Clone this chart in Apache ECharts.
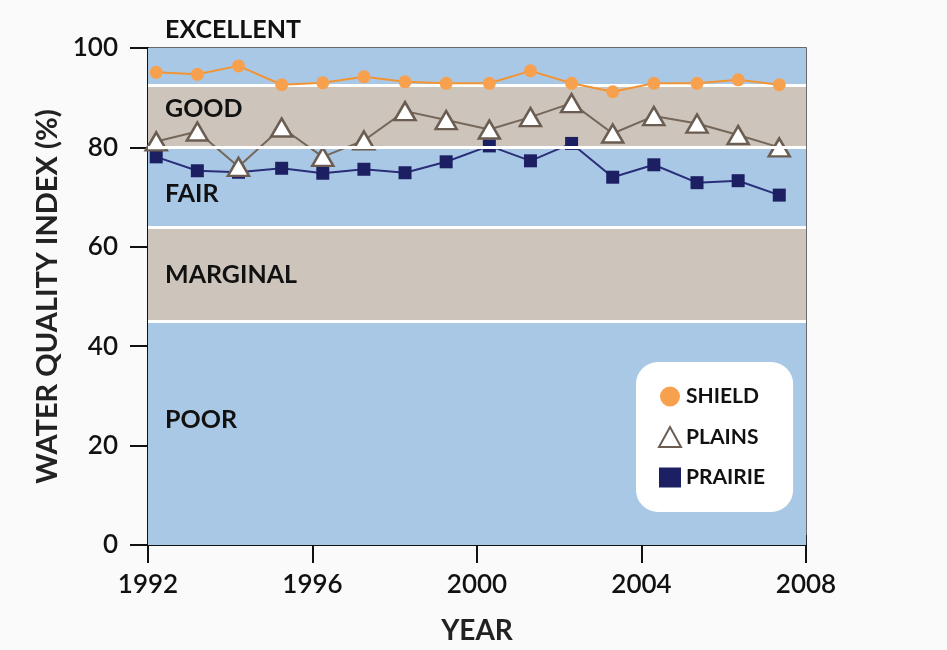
<!DOCTYPE html>
<html>
<head>
<meta charset="utf-8">
<script src="https://cdn.jsdelivr.net/npm/echarts@6/dist/echarts.min.js"></script>
<style>
  html, body { margin: 0; padding: 0; background: #fafafa; }
  #chart { width: 947px; height: 650px; }
</style>
</head>
<body>
<div id="chart"></div>
<script>
// sampled positions along the year axis (points sit a little past each Jan 1)
const sampleYears = [1992.2, 1993.2, 1994.2, 1995.25, 1996.25, 1997.25, 1998.25, 1999.25,
  2000.3, 2001.3, 2002.3, 2003.3, 2004.3, 2005.35, 2006.35, 2007.35]

const shield = [95.1, 94.7, 96.4, 92.6, 93.0, 94.2, 93.2, 92.9,
  92.9, 95.4, 92.9, 91.2, 92.9, 92.9, 93.6, 92.6]
const plains = [81.2, 83.2, 76.1, 84.0, 78.1, 81.4, 87.3, 85.5,
  83.6, 86.1, 88.9, 82.8, 86.3, 84.8, 82.5, 80.0]
const prairie = [78.1, 75.3, 75.0, 75.8, 74.8, 75.6, 74.9, 77.1,
  80.3, 77.3, 80.8, 74.0, 76.5, 72.9, 73.3, 70.4]

// water quality categories (lower edge, upper edge)
const bandNames = ['POOR', 'MARGINAL', 'FAIR', 'GOOD', 'EXCELLENT']
const bandEdges = [0, 45, 64, 80, 92.5, 100]

const yTicks = [0, 20, 40, 60, 80, 100]
const xTicks = [1992, 1996, 2000, 2004, 2008]

const FONT = 'Lato'
const blue = '#a9c8e6'
const tan = '#cdc5bb'

// where each band's label sits, relative to the band's vertical middle
const labelShift = { POOR: -13, MARGINAL: 1, FAIR: 7, GOOD: -7 }

function pairs(vals) {
  return vals.map((v, i) => [sampleYears[i], v])
}

const chart = echarts.init(document.getElementById('chart'))

const areas = bandNames.map((name, i) => {
  const label = name === 'EXCELLENT'
    ? { position: [17, -31], align: 'left', verticalAlign: 'top' }
    : { position: 'insideLeft', distance: 17, offset: [0, labelShift[name]] }
  return [
    { yAxis: bandEdges[i], name: name, itemStyle: { color: i % 2 === 0 ? blue : tan }, label: label },
    { yAxis: bandEdges[i + 1] }
  ]
})

const separators = bandEdges.slice(1, -1).map(v => ({ yAxis: v }))

chart.setOption({
  backgroundColor: 'transparent',
  textStyle: { fontFamily: FONT },
  animation: false,
  grid: {
    left: 148, right: 141, top: 48, bottom: 105,
    show: true, borderColor: '#3a3a3a', borderWidth: 1.5
  },
  legend: {
    orient: 'vertical',
    left: 636, top: 362,
    padding: [24, 28, 24, 22],
    itemGap: 19,
    itemWidth: 22, itemHeight: 20,
    backgroundColor: '#ffffff',
    borderRadius: 22,
    textStyle: { fontFamily: FONT, fontSize: 21, fontWeight: 'bold', color: '#111' },
    data: [
      { name: 'SHIELD', icon: 'circle', itemStyle: { color: '#f7a04e' } },
      { name: 'PLAINS', icon: 'triangle', itemStyle: { color: '#fff', borderColor: '#6b5d52', borderWidth: 2 } },
      { name: 'PRAIRIE', icon: 'rect', itemStyle: { color: '#1c2063' } }
    ]
  },
  xAxis: [
    {
      type: 'value', min: 1992, max: 2008, interval: 4,
      name: 'YEAR', nameLocation: 'middle', nameGap: 72,
      nameTextStyle: { fontFamily: FONT, fontSize: 28, fontWeight: 'bold', color: '#222' },
      axisLine: { show: true, lineStyle: { color: '#111', width: 2 } },
      axisTick: { show: true, length: 18, lineStyle: { color: '#111', width: 2 } },
      axisLabel: {
        fontFamily: FONT, fontSize: 26, fontWeight: 600, color: '#111', margin: 27,
        formatter: v => (xTicks.includes(v) ? String(v) : '')
      },
      splitLine: { show: false }
    },
    {
      type: 'value', min: 1992, max: 2008, interval: 1,
      position: 'bottom',
      axisLine: { show: false },
      axisTick: { show: true, inside: true, length: 10, lineStyle: { color: '#111', width: 1.5 } },
      axisLabel: { show: false },
      splitLine: { show: false }
    }
  ],
  yAxis: {
    type: 'value', min: 0, max: 100, interval: 20,
    name: 'WATER QUALITY INDEX (%)', nameLocation: 'middle', nameGap: 79,
    nameTextStyle: { fontFamily: FONT, fontSize: 29, fontWeight: 'bold', color: '#222' },
    axisLine: { show: true, lineStyle: { color: '#111', width: 2 } },
    axisTick: { show: true, length: 18, lineStyle: { color: '#111', width: 2 } },
    axisLabel: {
      fontFamily: FONT, fontSize: 26, fontWeight: 600, color: '#111', margin: 30,
      formatter: v => (yTicks.includes(v) ? String(v) : '')
    },
    splitLine: { show: false }
  },
  series: [
    {
      name: 'bands',
      type: 'line',
      data: [],
      zlevel: -1,
      clip: false,
      silent: true,
      markArea: {
        silent: true,
        label: { color: '#111', fontFamily: FONT, fontSize: 25, fontWeight: 'bold' },
        data: areas
      },
      markLine: {
        silent: true,
        symbol: 'none',
        label: { show: false },
        lineStyle: { color: '#ffffff', width: 3, type: 'solid' },
        data: separators
      }
    },
    {
      name: 'PRAIRIE',
      type: 'line',
      z: 3,
      data: pairs(prairie),
      symbol: 'rect',
      symbolSize: 13,
      lineStyle: { color: '#2a2e78', width: 2 },
      itemStyle: { color: '#1c2063' }
    },
    {
      name: 'PLAINS',
      type: 'line',
      z: 4,
      data: pairs(plains),
      symbol: 'triangle',
      symbolSize: [21, 18],
      lineStyle: { color: '#756759', width: 2 },
      itemStyle: { color: '#ffffff', borderColor: '#6b5d52', borderWidth: 2.5 }
    },
    {
      name: 'SHIELD',
      type: 'line',
      z: 5,
      data: pairs(shield),
      symbol: 'circle',
      symbolSize: 13,
      lineStyle: { color: '#f29433', width: 2 },
      itemStyle: { color: '#f7a04e' }
    }
  ]
})
</script>
</body>
</html>
